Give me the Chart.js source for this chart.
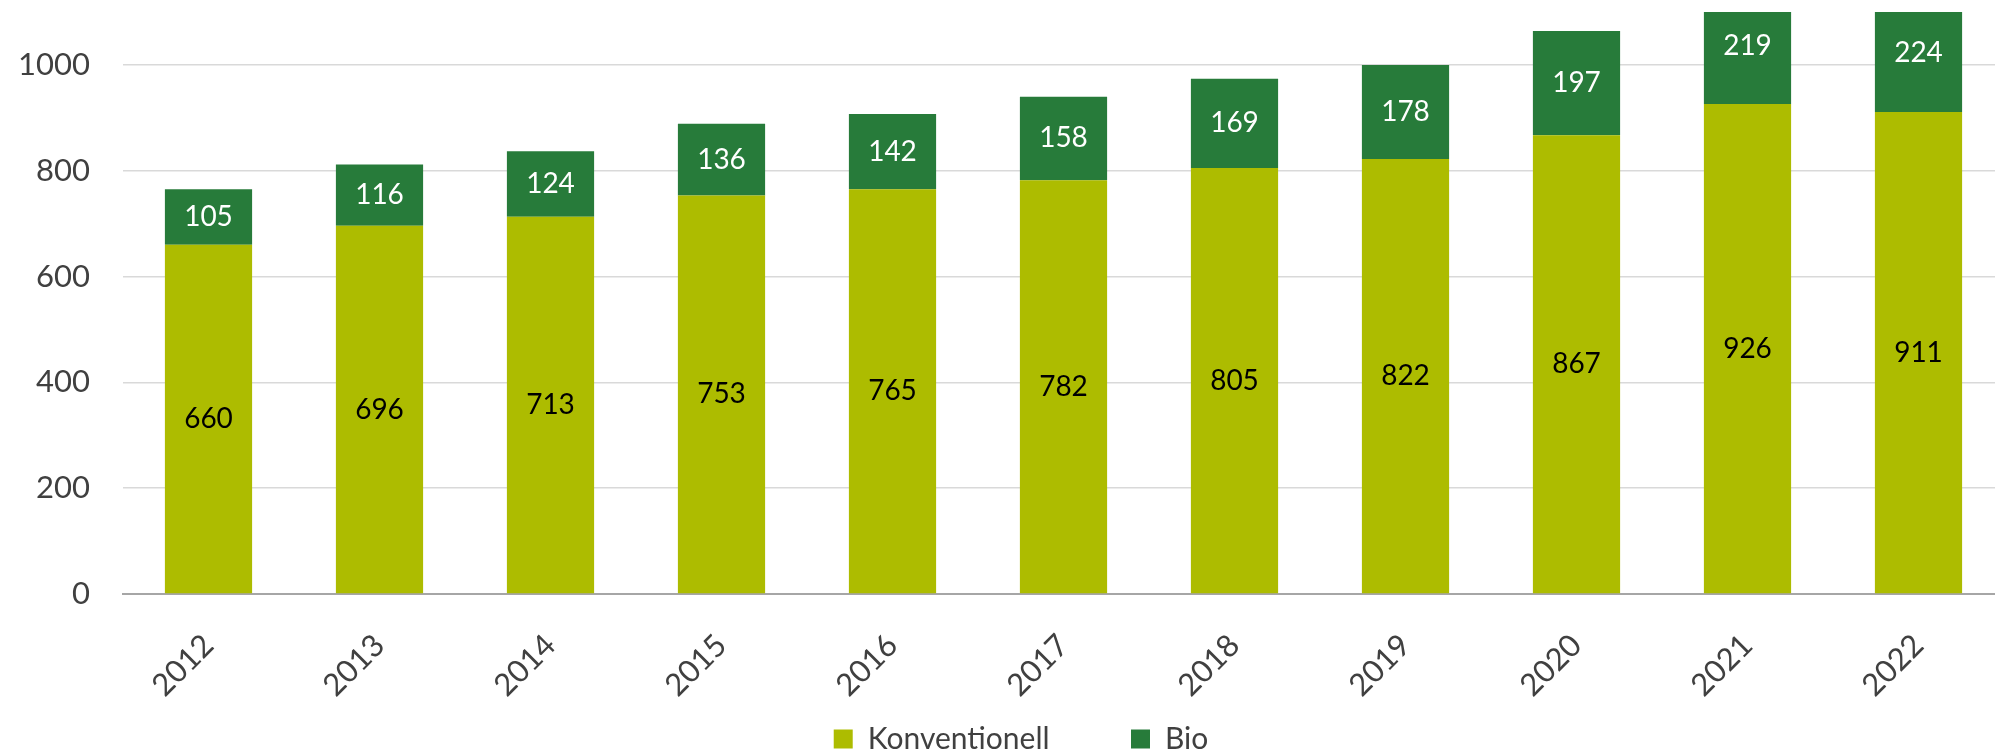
<!DOCTYPE html>
<html>
<head>
<meta charset="utf-8">
<script src="https://cdn.jsdelivr.net/npm/chart.js@4"></script>
<style>
  html, body { margin: 0; padding: 0; background: #fff; overflow: hidden; }
  #wrap { width: 2004px; height: 753px; }
</style>
</head>
<body>
<div id="wrap"><canvas id="chart"></canvas></div>
<script>
const years = ['2012', '2013', '2014', '2015', '2016', '2017', '2018', '2019', '2020', '2021', '2022'];
const konventionell = [660, 696, 713, 753, 765, 782, 805, 822, 867, 926, 911];
const bio = [105, 116, 124, 136, 142, 158, 169, 178, 197, 219, 224];
const yTicks = [0, 200, 400, 600, 800, 1000];

// labels in the middle of each segment (also for segments cut off at the top)
const segmentLabels = {
  id: 'segmentLabels',
  afterDatasetsDraw(chart) {
    const ctx = chart.ctx;
    ctx.save();
    ctx.font = '28px Lato';
    ctx.textAlign = 'center';
    ctx.textBaseline = 'middle';
    chart.data.datasets.forEach((ds, i) => {
      chart.getDatasetMeta(i).data.forEach((bar, j) => {
        ctx.fillStyle = ds.labelColor;
        ctx.fillText(ds.data[j], bar.x, (bar.y + bar.base) / 2);
      });
    });
    ctx.restore();
  }
};

// nudge the legend a bit to the right, like the original
const legendShift = {
  id: 'legendShift',
  afterLayout(chart) {
    chart.legend.left += 19;
    chart.legend.right += 19;
  }
};

new Chart(document.getElementById('chart'), {
  type: 'bar',
  data: {
    labels: years,
    datasets: [
      {
        label: 'Konventionell',
        data: konventionell,
        backgroundColor: '#adbc00',
        labelColor: '#000000',
        barPercentage: 0.51,
        categoryPercentage: 1.0,
      },
      {
        label: 'Bio',
        data: bio,
        backgroundColor: '#277b3a',
        labelColor: '#ffffff',
        barPercentage: 0.51,
        categoryPercentage: 1.0,
      },
    ],
  },
  options: {
    responsive: true,
    maintainAspectRatio: false,
    animation: false,
    layout: { padding: { top: 12, bottom: -11, left: 0, right: 0 } },
    plugins: {
      tooltip: { enabled: false },
      legend: {
        position: 'bottom',
        labels: {
          color: '#404040',
          font: { family: 'Lato', size: 30 },
          boxWidth: 19,
          boxHeight: 19,
          padding: 20,
          // wider gap between the two entries
          generateLabels(chart) {
            const items = Chart.defaults.plugins.legend.labels.generateLabels(chart);
            items[0].text = items[0].text + '        ';
            return items;
          },
        },
      },
    },
    scales: {
      x: {
        stacked: true,
        grid: { display: false },
        border: { color: '#a6a6a6', width: 2 },
        ticks: {
          color: '#404040',
          font: { family: 'Lato', size: 31 },
          minRotation: 45,
          maxRotation: 45,
          padding: 25,
        },
        afterFit(scale) {
          scale.height = 110;
          scale.paddingLeft = 0;
          scale.paddingRight = 0;
        },
      },
      y: {
        stacked: true,
        min: 0,
        max: 1100,
        border: { display: false },
        grid: {
          color: (c) => (c.tick && c.tick.value === 0 ? 'rgba(0,0,0,0)' : '#d9d9d9'),
          lineWidth: 1.5,
          drawTicks: false,
        },
        ticks: {
          color: '#404040',
          font: { family: 'Lato', size: 31 },
          padding: 33,
          callback: (v) => String(v),
        },
        afterBuildTicks(scale) {
          scale.ticks = yTicks.map((v) => ({ value: v }));
        },
        afterFit(scale) {
          scale.width = 123;
          scale.paddingTop = 0;
          scale.paddingBottom = 0;
        },
      },
    },
  },
  plugins: [segmentLabels, legendShift],
});
</script>
</body>
</html>
